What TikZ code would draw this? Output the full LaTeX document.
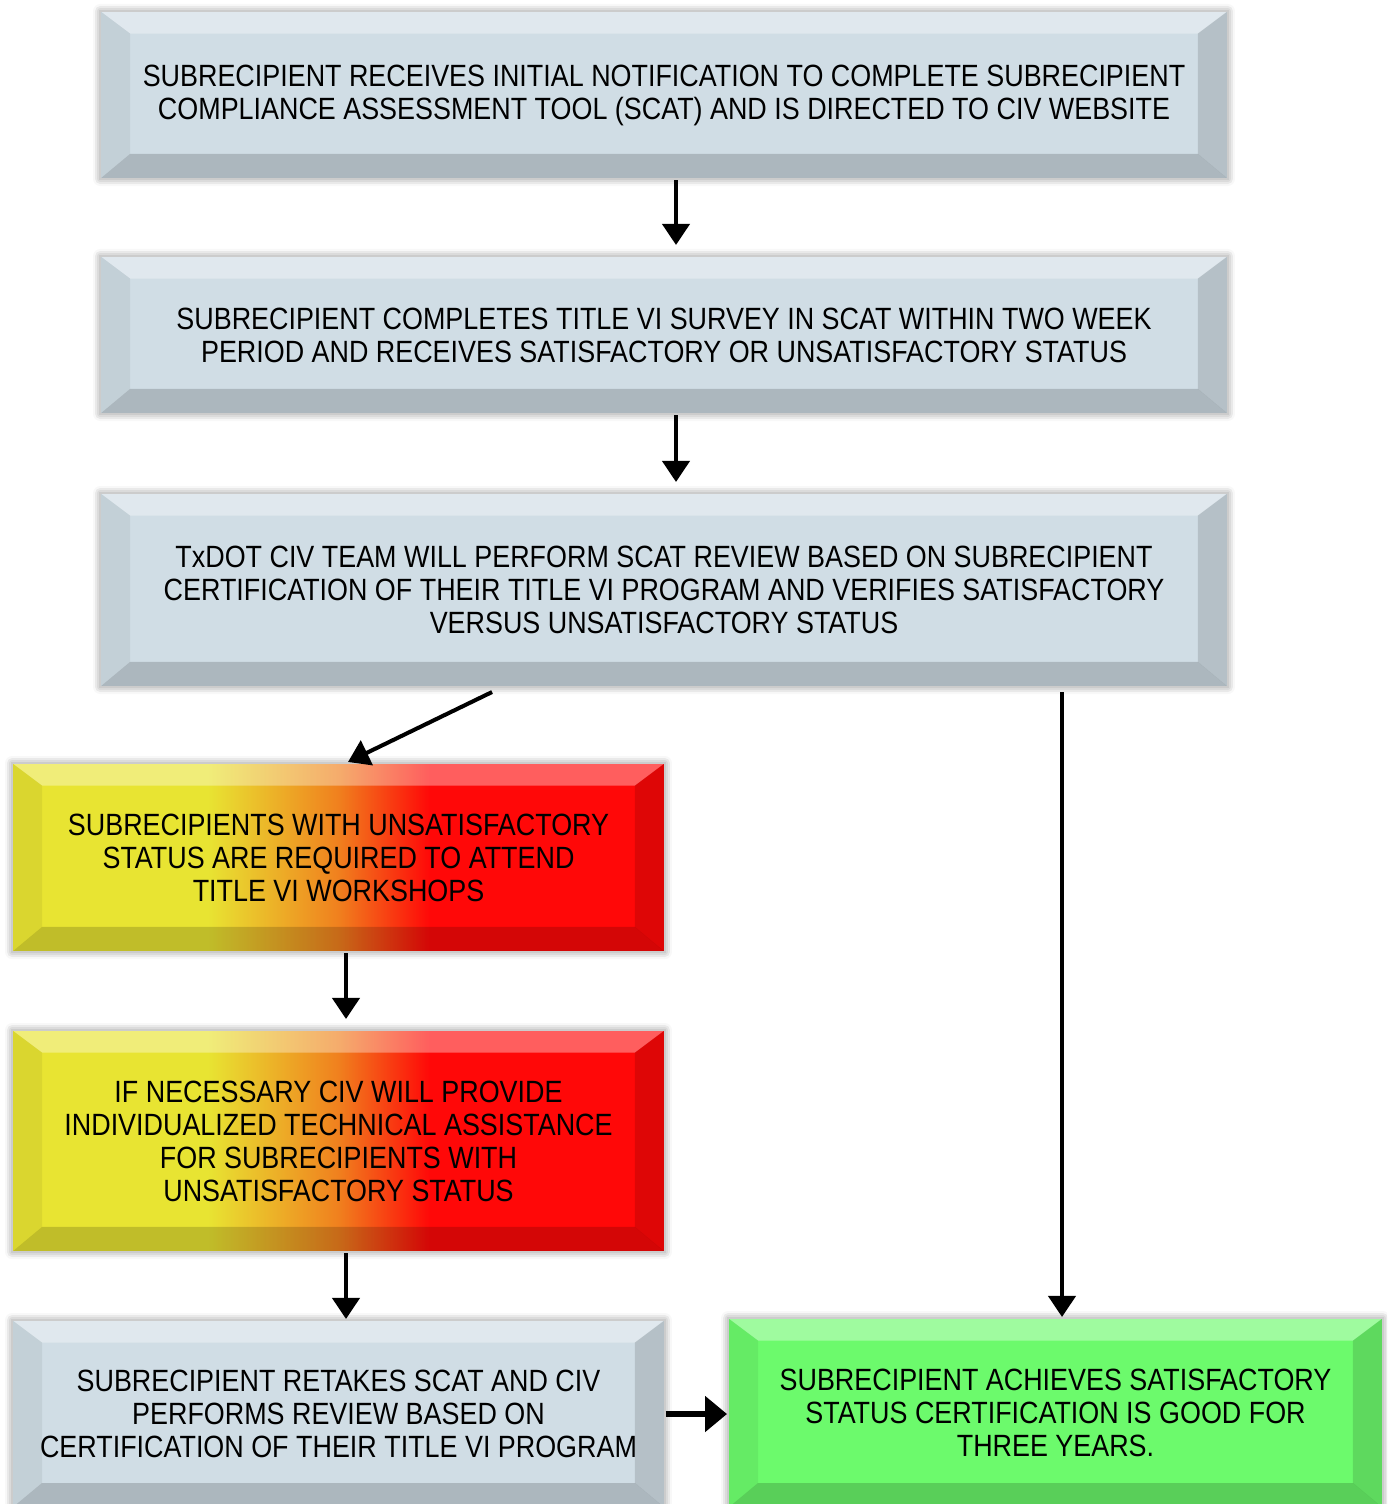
\documentclass[tikz,border=0pt]{standalone}
\usepackage{fontspec}
\newfontfamily\boxfont{Liberation Sans}[FakeStretch=0.875]
\usetikzlibrary{arrows.meta,shadows.blur}
\definecolor{boxgray}{RGB}{208,221,229}
\definecolor{boxgreen}{RGB}{108,250,108}
\definecolor{warmyellow}{RGB}{232,228,50}
\definecolor{warmorange}{RGB}{240,128,30}
\definecolor{warmred}{RGB}{255,8,8}
\pgfdeclarehorizontalshading{warm}{100bp}{color(0bp)=(warmyellow); color(40bp)=(warmyellow); color(50bp)=(warmorange); color(57bp)=(warmred); color(100bp)=(warmred)}
\begin{document}
\begin{tikzpicture}[y=-.02cm, x=.02cm, font=\boxfont\fontsize{17.5}{18.8}\selectfont,
	box/.style={draw=gray!40, line width=1.2pt, align=center, inner sep=0pt,
		blur shadow={shadow xshift=0pt, shadow yshift=0pt, shadow blur radius=4pt, shadow opacity=45},
		path picture={
			\coordinate (pnw) at (path picture bounding box.north west);
			\coordinate (pne) at (path picture bounding box.north east);
			\coordinate (psw) at (path picture bounding box.south west);
			\coordinate (pse) at (path picture bounding box.south east);
			\fill[white, opacity=.35] (pnw) -- (pne) -- ([shift={(-.6cm,-.45cm)}]pne) -- ([shift={(.6cm,-.45cm)}]pnw) -- cycle;
			\fill[black, opacity=.17] (psw) -- (pse) -- ([shift={(-.6cm,.5cm)}]pse) -- ([shift={(.6cm,.5cm)}]psw) -- cycle;
			\fill[black, opacity=.06] (pnw) -- ([shift={(.6cm,-.45cm)}]pnw) -- ([shift={(.6cm,.5cm)}]psw) -- (psw) -- cycle;
			\fill[black, opacity=.13] (pne) -- ([shift={(-.6cm,-.45cm)}]pne) -- ([shift={(-.6cm,.5cm)}]pse) -- (pse) -- cycle;
	}},
	graybox/.style={box, fill=boxgray},
	warmbox/.style={box, shading=warm},
	greenbox/.style={box, fill=boxgreen},
	arr/.style={line width=2.3pt, -{Triangle[length=.42cm, width=.54cm]}}]
\clip (0,0) rectangle (1387,1504);
%boxes
\node[graybox, minimum width=22.56cm, minimum height=3.36cm] (b1) at (664,95)
{SUBRECIPIENT RECEIVES INITIAL NOTIFICATION TO COMPLETE SUBRECIPIENT\\
	COMPLIANCE ASSESSMENT TOOL (SCAT) AND IS DIRECTED TO CIV WEBSITE};
\node[graybox, minimum width=22.56cm, minimum height=3.16cm] (b2) at (664,335)
{SUBRECIPIENT COMPLETES TITLE VI SURVEY IN SCAT WITHIN TWO WEEK\\
	PERIOD AND RECEIVES SATISFACTORY OR UNSATISFACTORY STATUS};
\node[graybox, minimum width=22.56cm, minimum height=3.88cm] (b3) at (664,590)
{TxDOT CIV TEAM WILL PERFORM SCAT REVIEW BASED ON SUBRECIPIENT\\
	CERTIFICATION OF THEIR TITLE VI PROGRAM AND VERIFIES SATISFACTORY\\
	VERSUS UNSATISFACTORY STATUS};
\node[warmbox, minimum width=13.06cm, minimum height=3.78cm] (b4) at (338.5,857.5)
{SUBRECIPIENTS WITH UNSATISFACTORY\\
	STATUS ARE REQUIRED TO ATTEND\\
	TITLE VI WORKSHOPS};
\node[warmbox, minimum width=13.06cm, minimum height=4.44cm] (b5) at (338.5,1141)
{IF NECESSARY CIV WILL PROVIDE\\
	INDIVIDUALIZED TECHNICAL ASSISTANCE\\
	FOR SUBRECIPIENTS WITH\\
	UNSATISFACTORY STATUS};
\node[graybox, minimum width=13.06cm, minimum height=3.76cm] (b6) at (338.5,1414)
{SUBRECIPIENT RETAKES SCAT AND CIV\\
	PERFORMS REVIEW BASED ON\\
	CERTIFICATION OF THEIR TITLE VI PROGRAM};
\node[greenbox, minimum width=13.1cm, minimum height=3.8cm] (b7) at (1055.5,1413)
{SUBRECIPIENT ACHIEVES SATISFACTORY\\
	STATUS CERTIFICATION IS GOOD FOR\\
	THREE YEARS.};
%arrows
\foreach \a/\b/\s in {b1/b2/.24cm, b2/b3/.24cm, b4/b5/.15cm}
\draw[arr] ([xshift=\s]\a.south) -- ([xshift=\s, yshift=.2cm]\b.north);
\draw[arr] ([xshift=.15cm]b5.south) -- ([xshift=.15cm]b6.north);
\draw[arr] ([xshift=-3.44cm, yshift=-.08cm]b3.south) -- ([xshift=.19cm]b4.north);
\draw[arr] ([xshift=.13cm, yshift=-.08cm]b7.north |- b3.south) -- ([xshift=.13cm]b7.north);
\draw[line width=3pt, -{Triangle[length=.44cm, width=.7cm]}] (b6.east) -- (b6.east -| b7.west);
\end{tikzpicture}
\end{document}
